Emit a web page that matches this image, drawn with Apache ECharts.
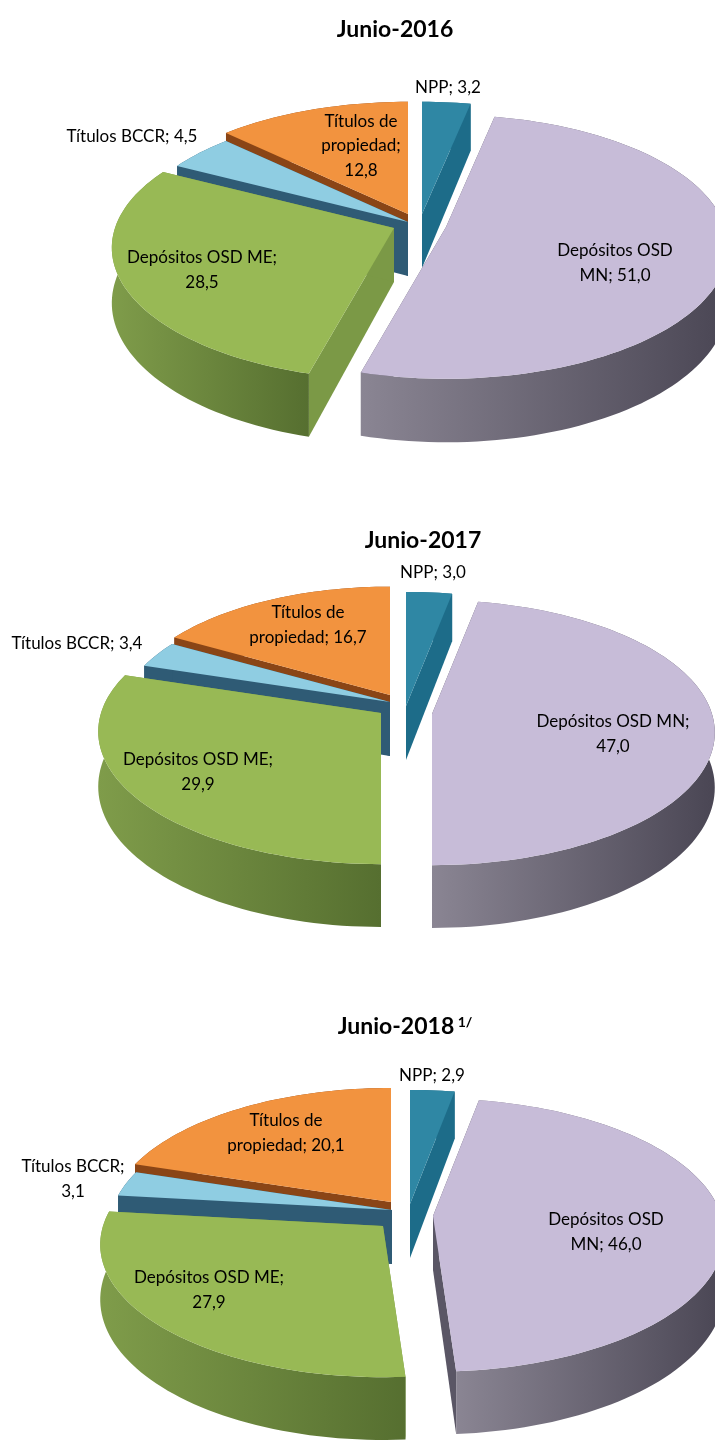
<!DOCTYPE html>
<html>
<head>
<meta charset="utf-8">
<title>Junio</title>
<script src="https://cdn.jsdelivr.net/npm/echarts@6/dist/echarts.min.js"></script>
<style>
  html, body { margin: 0; padding: 0; background: #fff; }
  #chart { width: 715px; height: 1440px; }
</style>
</head>
<body>
<div id="chart"></div>
<script>
// clockwise from 12 o'clock
const names = ["NPP", "Depósitos OSD MN", "Depósitos OSD ME", "Títulos BCCR", "Títulos de propiedad"];
const values2016 = [3.2, 51.0, 28.5, 4.5, 12.8];
const values2017 = [3.0, 47.0, 29.9, 3.4, 16.7];
const values2018 = [2.9, 46.0, 27.9, 3.1, 20.1];
const years = ["Junio-2016", "Junio-2017", "Junio-2018"];

// back to front
const drawOrder = [0, 4, 3, 2, 1];

const topColors = ["#2f87a4", "#c7bcd8", "#98b955", "#8fcde2", "#f2933f"];
const faceColors = ["#1d6c89", "#5a5665", "#7b9946", "#2f5b75", "#8a4516"];
const wallColors = [
  ["#1d6c89", "#1d6c89"],
  ["#8a8593", "#4a4654"],
  ["#7f9c4a", "#566f30"],
  ["#2f5b75", "#2f5b75"],
  ["#8a4516", "#8a4516"]
];

// per chart layout: apex [x, y, scale] of each exploded slice, labels
const layouts = [
  {
    a: 279, b: 129, k: 0.15, h: 54,
    apex: [[422, 214, 1], [446, 227, 1], [394, 228, 1], [408, 222, 1], [408, 214, 1]],
    labels: [
      { x: 448, y: 88, lines: [2] },
      { x: 615, y: 263, lines: [2] },
      { x: 202, y: 270, lines: [3] },
      { x: 132, y: 137, lines: [] },
      { x: 361, y: 146, lines: [2, 3] }
    ]
  },
  {
    a: 280, b: 130, k: 0.14, h: 54,
    apex: [[406, 706, 1], [432, 714, 1], [381, 713, 1], [390, 702, 0.96], [390, 695, 0.95]],
    labels: [
      { x: 433, y: 573, lines: [] },
      { x: 613, y: 734, lines: [3] },
      { x: 198, y: 772, lines: [3] },
      { x: 77, y: 644, lines: [] },
      { x: 308, y: 625, lines: [2] }
    ]
  },
  {
    a: 280, b: 130, k: 0.14, h: 54,
    apex: [[410, 1204, 1], [433, 1216, 1.03], [383, 1226, 1], [392, 1210, 1], [391, 1202, 1]],
    labels: [
      { x: 432, y: 1076, lines: [] },
      { x: 606, y: 1232, lines: [2] },
      { x: 209, y: 1290, lines: [3] },
      { x: 73, y: 1179, lines: [2] },
      { x: 286, y: 1133, lines: [2] }
    ]
  }
];

const allValues = [values2016, values2017, values2018];
const fontFamily = "Lato, 'Open Sans', sans-serif";

function labelText(i, value, breaks) {
  const words = (names[i] + "; " + value.toFixed(1).replace(".", ",")).split(" ");
  return words.reduce((s, w, n) => s + (n === 0 ? "" : breaks.indexOf(n) >= 0 ? "\n" : " ") + w, "");
}

function makeRender(chartIdx) {
  const lay = layouts[chartIdx];
  const toAngle = v => echarts.number.linearMap(v, [0, 100], [0, Math.PI * 2]);

  return function (params, api) {
    const i = api.value(0);
    const th0 = toAngle(api.value(1));
    const th1 = toAngle(api.value(2));
    const [cx, cy, sc] = lay.apex[i];

    // rim point on the tilted disc, the far side is a bit smaller
    const rim = (th, drop) => {
      const s = 1 / (1 + lay.k * Math.cos(th));
      const d = drop ? lay.h * s : 0;
      return [cx + lay.a * sc * Math.sin(th) * s, cy - lay.b * sc * Math.cos(th) * s + d];
    };
    const steps = Math.max(4, Math.ceil((th1 - th0) / 0.03));
    const top = [];
    const bottom = [];
    for (let n = 0; n <= steps; n++) {
      const th = th0 + (th1 - th0) * n / steps;
      top.push(rim(th, false));
      bottom.push(rim(th, true));
    }
    const apexTop = [cx, cy];
    const apexBottom = [cx, cy + lay.h];

    const wallFill = new echarts.graphic.LinearGradient(0, 0, 1, 0, [
      { offset: 0, color: wallColors[i][0] },
      { offset: 1, color: wallColors[i][1] }
    ]);
    const faceFill = faceColors[i];

    const children = [
      { type: "polygon", shape: { points: [apexTop, top[0], bottom[0], apexBottom] }, style: { fill: faceFill } },
      { type: "polygon", shape: { points: [apexTop, top[steps], bottom[steps], apexBottom] }, style: { fill: faceFill } },
      { type: "polygon", shape: { points: top.concat(bottom.slice().reverse()) }, style: { fill: wallFill } },
      { type: "polygon", shape: { points: [apexTop].concat(top) }, style: { fill: topColors[i] } }
    ];

    const lab = lay.labels[i];
    children.push({
      type: "text",
      z2: 100,
      style: {
        x: lab.x,
        y: lab.y,
        text: labelText(i, allValues[chartIdx][i], lab.lines),
        fill: "#000",
        font: "17px " + fontFamily,
        lineHeight: 24.5,
        align: "center",
        verticalAlign: "middle"
      }
    });
    return { type: "group", children: children };
  };
}

// rows are [slice index, cumulative start, cumulative end]
function makeRows(values) {
  let sum = 0;
  const rows = values.map((v, i) => {
    const row = [i, sum, sum + v];
    sum += v;
    return row;
  });
  return drawOrder.map(i => rows[i]);
}

const chart = echarts.init(document.getElementById("chart"), null, { renderer: "canvas" });

chart.setOption({
  backgroundColor: "#fff",
  animation: false,
  title: [
    { text: years[0], left: 390, top: 13, textAlign: "center", textStyle: { fontFamily: fontFamily, fontSize: 23, fontWeight: "bold", color: "#000" } },
    { text: years[1], left: 418, top: 524, textAlign: "center", textStyle: { fontFamily: fontFamily, fontSize: 23, fontWeight: "bold", color: "#000" } },
    {
      text: "{t|" + years[2] + "}{s| 1/}",
      left: 400,
      top: 1010,
      textAlign: "center",
      textStyle: {
        rich: {
          t: { fontFamily: fontFamily, fontSize: 23, fontWeight: "bold", color: "#000" },
          s: { fontFamily: fontFamily, fontSize: 14, fontWeight: "bold", color: "#000", verticalAlign: "top", padding: [0, 0, 8, 0] }
        }
      }
    }
  ],
  series: allValues.map((values, c) => ({
    type: "custom",
    coordinateSystem: "none",
    silent: true,
    renderItem: makeRender(c),
    data: makeRows(values)
  }))
});
</script>
</body>
</html>
